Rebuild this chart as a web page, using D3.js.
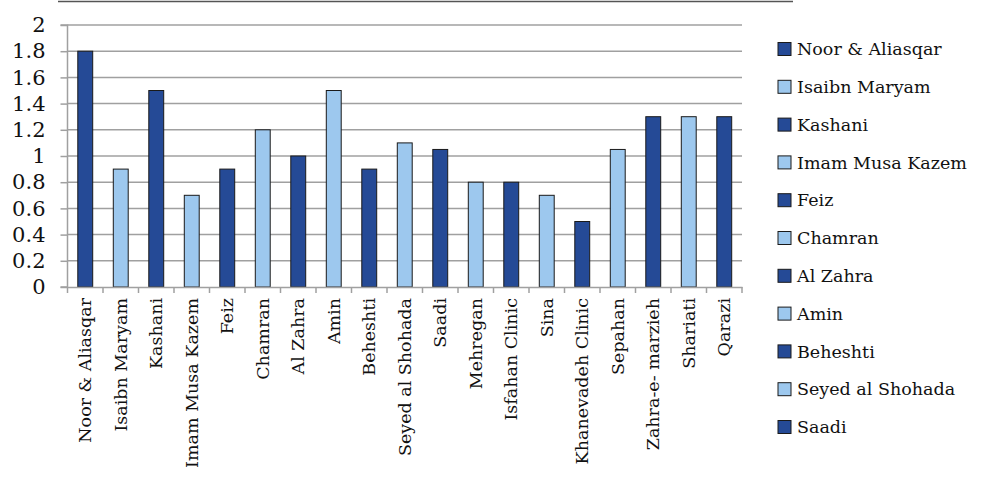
<!DOCTYPE html>
<html><head><meta charset="utf-8">
<script src="https://cdn.jsdelivr.net/npm/d3@7"></script>
<style>body{margin:0;background:#fff}</style>
</head><body><svg id="c" width="1000" height="477"></svg>
<script>
const categories = ["Noor & Aliasqar","Isaibn Maryam","Kashani","Imam Musa Kazem","Feiz","Chamran","Al Zahra","Amin","Beheshti","Seyed al Shohada","Saadi","Mehregan","Isfahan Clinic","Sina","Khanevadeh Clinic","Sepahan","Zahra-e- marzieh","Shariati","Qarazi"];
const values = [1.8,0.9,1.5,0.7,0.9,1.2,1.0,1.5,0.9,1.1,1.05,0.8,0.8,0.7,0.5,1.05,1.3,1.3,1.3];
const legendItems = ["Noor & Aliasqar","Isaibn Maryam","Kashani","Imam Musa Kazem","Feiz","Chamran","Al Zahra","Amin","Beheshti","Seyed al Shohada","Saadi"];
const yTicks = [0,0.2,0.4,0.6,0.8,1,1.2,1.4,1.6,1.8,2];
const colors = ["#254a96","#9dc8ee"];
const font = "DejaVu Serif";

const svg = d3.select("#c");
const pLeft = 67.5, pRight = 742, pTop = 25, pBottom = 287;
const x = d3.scaleBand().domain(categories).range([pLeft, pRight]).paddingInner(0.58).paddingOuter(0.29);
const xTick = d3.scaleBand().domain(categories).range([pLeft, pRight]);
const y = d3.scaleLinear().domain([0,2]).range([pBottom, pTop]);

svg.append("line").attr("x1",58).attr("x2",793).attr("y1",1.5).attr("y2",1.5).attr("stroke","#555").attr("stroke-width",1.5);

svg.append("g").selectAll("line").data(yTicks.slice(1)).join("line")
  .attr("x1",pLeft).attr("x2",pRight).attr("y1",d=>y(d)).attr("y2",d=>y(d))
  .attr("stroke","#a0a0a0").attr("stroke-width",1.5);

const ya = svg.append("g").attr("transform",`translate(${pLeft},0)`)
  .call(d3.axisLeft(y).tickValues(yTicks).tickFormat(d3.format("")).tickSize(7).tickPadding(15));
ya.select(".domain").attr("stroke","#a0a0a0").attr("stroke-width",1.5).attr("d",`M-7,${pTop}H0V${pBottom}H-7`);
ya.selectAll(".tick line").attr("stroke","#a0a0a0").attr("stroke-width",1.5);
ya.selectAll("text").attr("font-family",font).attr("font-size",21).attr("fill","#111");

svg.append("g").selectAll("rect").data(values).join("rect")
  .attr("x",(d,i)=>x(categories[i])).attr("width",x.bandwidth())
  .attr("y",d=>y(d)).attr("height",d=>y(0)-y(d))
  .attr("fill",(d,i)=>colors[i%2]).attr("stroke","#1a1a1a").attr("stroke-width",1);

const xa = svg.append("g").attr("transform",`translate(0,${pBottom})`)
  .call(d3.axisBottom(xTick).tickSize(0).tickPadding(0));
xa.select(".domain").attr("stroke","#a0a0a0").attr("stroke-width",1.5);
svg.append("g").selectAll("line").data(d3.range(categories.length+1)).join("line")
  .attr("x1",i=>pLeft+i*xTick.step()).attr("x2",i=>pLeft+i*xTick.step())
  .attr("y1",pBottom).attr("y2",pBottom+6).attr("stroke","#a0a0a0").attr("stroke-width",1.5);
xa.selectAll("text").attr("font-family",font).attr("font-size",17.5).attr("fill","#111")
  .attr("transform","rotate(-90)").attr("text-anchor","end").attr("dy","0.35em").attr("x",-11).attr("y",0);

const lg = svg.append("g").selectAll("g").data(legendItems).join("g")
  .attr("transform",(d,i)=>`translate(778,${49 + i*37.8})`);
lg.append("rect").attr("x",0).attr("y",-6.5).attr("width",13).attr("height",13)
  .attr("fill",(d,i)=>colors[i%2]).attr("stroke","#1a1a1a").attr("stroke-width",1);
lg.append("text").attr("x",19).attr("dy","0.35em").text(d=>d)
  .attr("font-family",font).attr("font-size",17.5).attr("fill","#111");
</script></body></html>
